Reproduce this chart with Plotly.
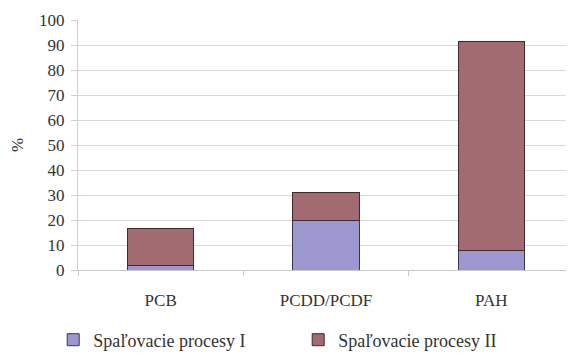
import plotly.graph_objects as go

categories = ["PCB", "PCDD/PCDF", "PAH"]
proces_I = [1.7, 20, 8]
proces_II = [15.1, 11, 83.5]
series_names = ["Spaľovacie procesy I", "Spaľovacie procesy II"]

serif = "Times New Roman, Liberation Serif, DejaVu Serif, serif"
txt = "#333333"

fig = go.Figure()
fig.add_trace(go.Bar(
    x=categories, y=proces_I, name=series_names[0],
    marker=dict(color="#9c97cf", line=dict(color="#3a3550", width=1)),
))
fig.add_trace(go.Bar(
    x=categories, y=proces_II, name=series_names[1],
    marker=dict(color="#a26b71", line=dict(color="#3f2a30", width=1)),
))

# page body keeps an 8px margin, so the figure is sized to fit inside it
fig.update_layout(
    barmode="stack",
    bargap=0.6,
    width=566, height=346,
    margin=dict(l=70, r=0, t=12, b=84, autoexpand=False),
    paper_bgcolor="white", plot_bgcolor="white",
    font=dict(family=serif, size=17, color=txt),
    showlegend=True,
    legend=dict(
        orientation="h", x=-0.05, xanchor="left", y=-0.28, yanchor="middle",
        font=dict(family=serif, size=18, color=txt), itemwidth=30, entrywidth=200,
        traceorder="normal",
    ),
)
fig.update_yaxes(
    range=[0, 100], dtick=10, automargin=False,
    tickfont=dict(family=serif, size=17, color=txt),
    showgrid=True, gridcolor="#d9d9d9", gridwidth=1,
    showline=True, linecolor="#d0d0d0",
    ticks="outside", ticklen=6, tickcolor="#d0d0d0",
    ticklabelstandoff=3,
    zeroline=False,
    title=dict(text="%", font=dict(family=serif, size=17, color=txt), standoff=11),
)
fig.update_xaxes(
    showline=True, linecolor="#c8c8c8", automargin=False,
    tickfont=dict(family=serif, size=17, color=txt),
    ticks="outside", tickson="boundaries", ticklen=5, tickcolor="#c8c8c8",
    ticklabelstandoff=15,
)

fig.write_html("out.html")
